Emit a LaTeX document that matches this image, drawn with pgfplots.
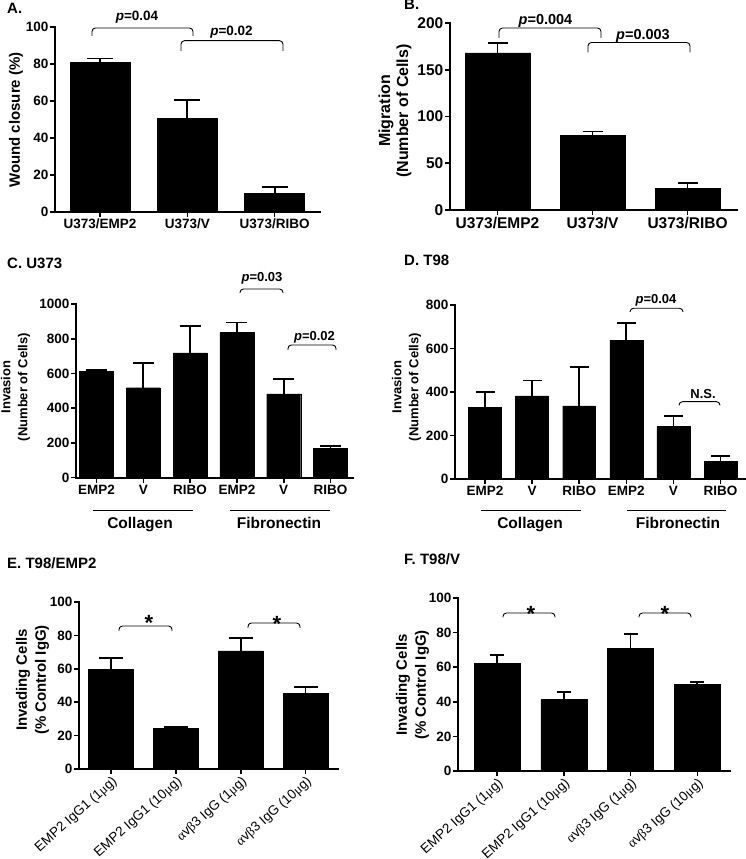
\documentclass[border=0pt]{standalone}
\usepackage{pgfplots}
\pgfplotsset{compat=1.18}
\usepackage{fontspec}
\setmainfont{Liberation Sans}
\newfontfamily\grk{Liberation Serif}
\newcommand\F[2]{\fontsize{#1pt}{#2pt}\selectfont\bfseries}
\newcommand\R[2]{\fontsize{#1pt}{#2pt}\selectfont\mdseries}
\newcommand\brk[4]{\draw[line width=0.9pt, rounded corners=3.5pt] (#1,859-#4) -- (#1,859-#3) -- (#2,859-#3) -- (#2,859-#4);}
\pgfplotsset{
  prism/.style={
    scale only axis,
    anchor=south west,
    axis x line*=bottom, axis y line*=left,
    axis line style={-, line width=1.8pt, line cap=rect},
    tick style={line width=1.6pt, black},
    tick align=outside,
    major tick length=5pt,
    ymin=0,
    clip=false,
    yticklabel style={inner sep=1.5pt},
    xticklabel style={inner sep=2pt},
  },
  bars/.style 2 args={ybar, fill=black, draw=black, bar width=#1, bar shift=0pt,
    error bars/.cd, y dir=plus, y explicit,
    error bar style={line width=1.8pt, black},
    error mark options={line width=1.8pt, black, mark size=#2, rotate=90}},
}
\begin{document}
\begin{tikzpicture}
\useasboundingbox (0pt,0pt) rectangle (745pt,859pt);

% ---------- A ----------
\begin{axis}[prism, at={(55pt,647pt)}, width=265pt, height=185pt,
  xmin=-0.517, xmax=2.52, ymax=100,
  ytick={0,20,40,60,80,100}, yticklabels={0,20,40,60,80,100},
  xtick={0,1,2}, xticklabels={U373/EMP2,U373/V,U373/RIBO},
  tick label style={font=\F{13.5}{15}}]
\addplot[bars={0.688}{13pt}] coordinates {(0,81) +- (0,2) (1,50.5) +- (0,10) (2,10) +- (0,3.5)};
\end{axis}

% ---------- B ----------
\begin{axis}[prism, at={(450pt,649pt)}, width=287pt, height=187pt,
  xmin=-0.5, xmax=2.52, ymax=200,
  ytick={0,50,100,150,200}, yticklabels={0,50,100,150,200},
  xtick={0,1,2}, xticklabels={U373/EMP2,U373/V,U373/RIBO},
  tick label style={font=\F{15.5}{17}}]
\addplot[bars={0.684}{10pt}] coordinates {(0,168) +- (0,11) (1,80) +- (0,4) (2,23) +- (0,5.5)};
\end{axis}

% ---------- C ----------
\begin{axis}[prism, at={(76pt,381.3pt)}, width=277pt, height=173.7pt,
  xmin=-0.438, xmax=5.48, ymax=1000,
  ytick={0,200,400,600,800,1000}, yticklabels={0,200,400,600,800,1000},
  xtick={0,1,2,3,4,5}, xticklabels={EMP2,V,RIBO,EMP2,V,RIBO},
  tick label style={font=\F{13.5}{15}}]
\addplot[bars={0.726}{10.5pt}] coordinates {(0,612) +- (0,10) (1,518) +- (0,142) (2,718) +- (0,155) (3,835) +- (0,58) (4,483) +- (0,83) (5,167) +- (0,16)};
\end{axis}

% ---------- D ----------
\begin{axis}[prism, at={(455pt,380pt)}, width=290pt, height=174pt,
  xmin=-0.637, xmax=5.52, ymax=800,
  ytick={0,200,400,600,800}, yticklabels={0,200,400,600,800},
  xtick={0,1,2,3,4,5}, xticklabels={EMP2,V,RIBO,EMP2,V,RIBO},
  tick label style={font=\F{13.5}{15}}]
\addplot[bars={0.70}{9.5pt}] coordinates {(0,330) +- (0,69) (1,382) +- (0,71) (2,336) +- (0,178) (3,639) +- (0,80) (4,242) +- (0,46) (5,81) +- (0,23)};
\end{axis}

% ---------- E ----------
\begin{axis}[prism, at={(79pt,90pt)}, width=259pt, height=167pt,
  xmin=-0.494, xmax=3.5, ymax=100,
  ytick={0,20,40,60,80,100}, yticklabels={0,20,40,60,80,100},
  yticklabel style={font=\F{13.5}{15}},
  xtick={0,1,2,3},
  xticklabels={{EMP2 IgG1 (1{\grk μ}g)},{EMP2 IgG1 (10{\grk μ}g)},{{\grk α}v{\grk β}3 IgG (1{\grk μ}g)},{{\grk α}v{\grk β}3 IgG (10{\grk μ}g)}},
  xticklabel style={font=\R{13.5}{15}, rotate=42, anchor=north east, inner sep=0.5pt}]
\addplot[bars={0.694}{12pt}] coordinates {(0,59.8) +- (0,6.6) (1,24.3) +- (0,0.8) (2,70.8) +- (0,7.6) (3,45.4) +- (0,3.8)};
\end{axis}

% ---------- F ----------
\begin{axis}[prism, at={(458pt,88pt)}, width=272pt, height=173pt,
  xmin=-0.585, xmax=3.49, ymax=100,
  ytick={0,20,40,60,80,100}, yticklabels={0,20,40,60,80,100},
  yticklabel style={font=\F{13.5}{15}},
  xtick={0,1,2,3},
  xticklabels={{EMP2 IgG1 (1{\grk μ}g)},{EMP2 IgG1 (10{\grk μ}g)},{{\grk α}v{\grk β}3 IgG (1{\grk μ}g)},{{\grk α}v{\grk β}3 IgG (10{\grk μ}g)}},
  xticklabel style={font=\R{13.5}{15}, rotate=42, anchor=north east, inner sep=0.5pt}]
\addplot[bars={0.69}{7pt}] coordinates {(0,62.3) +- (0,4.6) (1,41.4) +- (0,4.4) (2,70.8) +- (0,8.5) (3,50.1) +- (0,1.5)};
\end{axis}

\begin{scope}[x=1pt,y=1pt]
% ---------- titles ----------
\begin{scope}[every node/.style={inner sep=0pt, anchor=west}]
\node[font=\F{15}{17}] at (7,859-8) {A.};
\node[font=\F{15}{17}] at (404,859-4.5) {B.};
\node[font=\F{15}{17}] at (7,859-263) {C. U373};
\node[font=\F{15}{17}] at (404,859-260) {D. T98};
\node[font=\F{15}{17}] at (7,859-563) {E. T98/EMP2};
\node[font=\F{15}{17}] at (404,859-559) {F. T98/V};
\end{scope}

% ---------- y labels ----------
\begin{scope}[every node/.style={inner sep=0pt, rotate=90, align=center}]
\node[font=\F{15}{17}] at (16,859-120) {Wound closure (\%)};
\node[font=\F{16}{18}] at (395,859-111) {Migration\\(Number of Cells)};
\node[font=\F{13}{17}] at (15.5,859-387) {Invasion\\(Number of Cells)};
\node[font=\F{13}{17}] at (406.5,859-387) {Invasion\\(Number of Cells)};
\node[font=\F{15}{19}] at (32.5,859-680) {Invading Cells\\(\% Control IgG)};
\node[font=\F{15}{19}] at (412.5,859-685) {Invading Cells\\(\% Control IgG)};
\end{scope}

% ---------- significance brackets ----------
\brk{92}{193}{28}{36}
\brk{181}{283}{40.7}{51}
\brk{499}{601}{28}{38}
\brk{588}{690}{42.5}{52.5}
\brk{240}{283}{289}{293}
\brk{288}{336}{345}{350}
\brk{630}{683}{308.3}{312}
\brk{679}{720}{401.7}{405.5}
\brk{119}{172}{626}{631}
\brk{248}{300}{623}{628}
\brk{503}{555}{613}{617.5}
\brk{639}{691}{613}{617.5}

\begin{scope}[every node/.style={inner sep=0pt, anchor=base}]
\node[font=\F{13.5}{15}] at (137,859-20.7) {\textit{p}=0.04};
\node[font=\F{13.5}{15}] at (231.5,859-36) {\textit{p}=0.02};
\node[font=\F{14.5}{16}] at (545.5,859-24.3) {\textit{p}=0.004};
\node[font=\F{14.5}{16}] at (643,859-39.3) {\textit{p}=0.003};
\node[font=\F{13}{15}] at (262,859-281.7) {\textit{p}=0.03};
\node[font=\F{13}{15}] at (314.5,859-341) {\textit{p}=0.02};
\node[font=\F{13}{15}] at (656,859-304) {\textit{p}=0.04};
\node[font=\F{13}{15}] at (703,859-398.3) {N.S.};
\node[font=\F{22}{24}] at (149,859-631) {*};
\node[font=\F{22}{24}] at (277,859-632) {*};
\node[font=\F{22}{24}] at (531,859-621.5) {*};
\node[font=\F{22}{24}] at (665,859-621.5) {*};
\end{scope}

% ---------- group lines ----------
\draw[line width=0.9pt] (92.7,349) -- (192.7,349);
\draw[line width=0.9pt] (230,349) -- (330,349);
\draw[line width=0.9pt] (481,349) -- (581,349);
\draw[line width=0.9pt] (627,349) -- (726,349);
\begin{scope}[every node/.style={inner sep=0pt, anchor=base, font=\F{15.5}{17}}]
\node at (140,330) {Collagen};
\node at (279,330) {Fibronectin};
\node at (530,330) {Collagen};
\node at (678,330) {Fibronectin};
\end{scope}
\end{scope}
\end{tikzpicture}
\end{document}
